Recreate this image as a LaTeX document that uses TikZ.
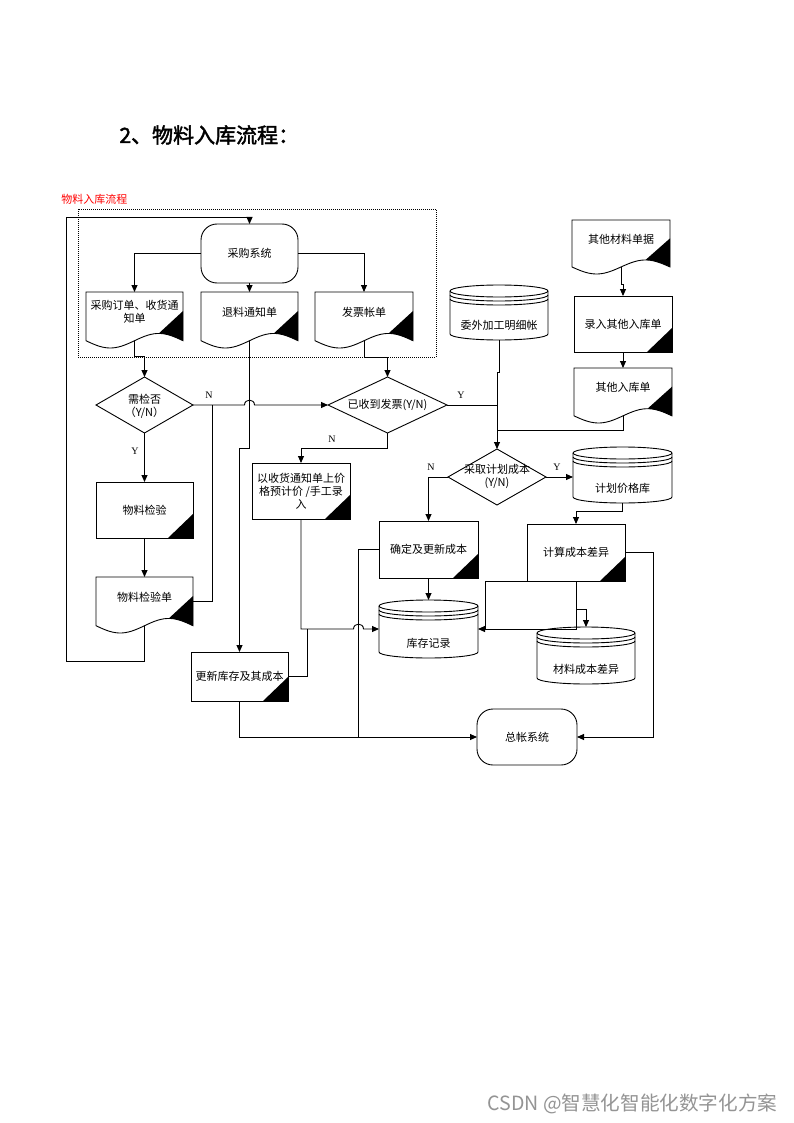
\documentclass[tikz,border=0pt]{standalone}
\usepackage{fontspec}
\setmainfont{Liberation Serif}
\newfontfamily\cjk{Noto Sans CJK SC}
\newfontfamily\cjkb{Noto Sans CJK SC}[FakeBold=2]
\usetikzlibrary{shapes.geometric,arrows.meta,calc}

\newcommand\docshape[6]{%
  \pgfmathsetmacro\dkL{#2}\pgfmathsetmacro\dkT{#3}\pgfmathsetmacro\dkR{#4}\pgfmathsetmacro\dkH{#5}%
  \pgfmathsetmacro\dkW{\dkR-\dkL}\pgfmathsetmacro\dkX{(\dkL+\dkR)/2}%
  \draw[shp] (\dkL,\dkT) -- (\dkR,\dkT) -- plot[domain=1:0,samples=31,variable=\vv] ({\dkL+\vv*\dkW},{\dkT+\dkH*(0.87+0.13*sin(360*\vv))}) -- cycle;
  \fill (\dkR,{\dkT+0.34*\dkH}) -- plot[domain=1:0.75,samples=9,variable=\vv] ({\dkL+\vv*\dkW},{\dkT+\dkH*(0.87+0.13*sin(360*\vv))}) -- cycle;
  \node[geo,minimum width={\dkW*1pt},minimum height={0.87*\dkH*1pt},anchor=north] (#1) at (\dkX,\dkT) {};
  \node[txt] (#1t) at (\dkX,{\dkT+0.36*\dkH}) {#6};
}
\newcommand\procshape[6]{%
  \node[proc,minimum width={(#4-#2)*1pt},minimum height={(#5-#3)*1pt}] (#1) at ({(#2+#4)/2},{(#3+#5)/2}) {#6};
  \fill (#1.south east) -- ++(0,-24) -- ++(-25,24) -- cycle;
}
\newcommand\cylshape[6]{%
  \pgfmathsetmacro\cyL{#2}\pgfmathsetmacro\cyT{#3}\pgfmathsetmacro\cyR{#4}\pgfmathsetmacro\cyB{#5}%
  \pgfmathsetmacro\cyX{(\cyL+\cyR)/2}\pgfmathsetmacro\cyk{0.552*(\cyR-\cyL)/2}%
  \pgfmathsetmacro\cyA{\cyT+6}\pgfmathsetmacro\cyZ{\cyB-6}%
  \draw[shp] (\cyL,\cyA) -- (\cyL,\cyZ)
     .. controls (\cyL,{\cyZ+3.3}) and ({\cyX-\cyk},\cyB) .. (\cyX,\cyB)
     .. controls ({\cyX+\cyk},\cyB) and (\cyR,{\cyZ+3.3}) .. (\cyR,\cyZ)
     -- (\cyR,\cyA)
     .. controls (\cyR,{\cyA-3.3}) and ({\cyX+\cyk},\cyT) .. (\cyX,\cyT)
     .. controls ({\cyX-\cyk},\cyT) and (\cyL,{\cyA-3.3}) .. (\cyL,\cyA) -- cycle;
  \foreach \yy in {0,4,8}{%
    \draw (\cyL,{\cyA+\yy}) .. controls (\cyL,{\cyA+\yy+3.3}) and ({\cyX-\cyk},{\cyA+\yy+6}) .. (\cyX,{\cyA+\yy+6})
      .. controls ({\cyX+\cyk},{\cyA+\yy+6}) and (\cyR,{\cyA+\yy+3.3}) .. (\cyR,{\cyA+\yy});
  }
  \node[geo,minimum width={(\cyR-\cyL)*1pt},minimum height={(\cyB-\cyT)*1pt}] (#1) at (\cyX,{(\cyT+\cyB)/2}) {};
  \node[txt] (#1t) at (\cyX,{\cyT+0.74*(\cyB-\cyT)}) {#6};
}

\begin{document}
\begin{tikzpicture}[x=1pt,y=-1pt,line width=0.9pt,
  shp/.style={draw,fill=white},
  geo/.style={inner sep=0pt,outer sep=0pt,draw=none},
  txt/.style={font=\cjk\fontsize{11}{13}\selectfont,align=center,inner sep=0pt},
  proc/.style={draw,fill=white,inner sep=0pt,outer sep=0pt,font=\cjk\fontsize{11}{13}\selectfont,align=center},
  term/.style={draw,fill=white,rounded corners=16pt,inner sep=0pt,outer sep=0pt,font=\cjk\fontsize{11}{13}\selectfont,align=center},
  dia/.style={diamond,draw,fill=white,inner sep=0pt,outer sep=0pt},
  arr/.style={-{Triangle[length=7pt,width=6pt]}},
  lab/.style={font=\fontsize{10}{12}\selectfont,inner sep=0pt}]
\fill[white] (0,0) rectangle (794,1123);
\useasboundingbox (0,0) rectangle (794,1123);

% titles
\node[anchor=west,inner sep=0pt,font=\cjkb\fontsize{21}{25}\selectfont] (title) at (119,135) {2、物料入库流程：};
\node[anchor=west,inner sep=0pt,font=\cjk\fontsize{11}{13}\selectfont,text=red] (lbl) at (61,199) {物料入库流程};
\node[anchor=west,inner sep=0pt,font=\cjk\fontsize{19.6}{22}\selectfont,text=black!42] (wm) at (487,1104) {CSDN @智慧化智能化数字化方案};

% group frame
\draw[line width=0.6pt,dash pattern=on 1pt off 1pt] (78,209) rectangle (436,357);

% terminators
\node[term,minimum width=97pt,minimum height=59pt] (cg) at (249.5,253.5) {采购系统};
\node[term,minimum width=100pt,minimum height=56pt] (zz) at (527,737) {总帐系统};

% documents
\docshape{d1}{86}{292}{183}{56}{采购订单、收货通\\知单}
\docshape{d2}{201}{292}{298}{56}{退料通知单}
\docshape{d3}{315}{292}{413}{56}{发票帐单}
\docshape{d4}{96}{577}{193}{56}{物料检验单}
\docshape{d5}{572}{220}{670}{54}{其他材料单据}
\docshape{d6}{574}{368}{672}{55}{其他入库单}

% processes
\procshape{p1}{96}{482}{193}{538}{物料检验}
\procshape{p2}{252}{463}{350}{519}{以收货通知单上价\\格预计价 /手工录\\入}
\procshape{p3}{191}{652}{288}{701}{更新库存及其成本}
\procshape{p4}{379}{521}{478}{578}{确定及更新成本}
\procshape{p5}{527}{524}{625}{581}{计算成本差异}
\procshape{p6}{574}{296}{672}{352}{录入其他入库单}

% stores
\cylshape{c1}{450}{285}{548}{340}{委外加工明细帐}
\cylshape{c2}{573}{447}{672}{503}{计划价格库}
\cylshape{c3}{379}{600}{478}{658}{库存记录}
\cylshape{c4}{537}{627}{635}{684}{材料成本差异}

% decisions
\node[dia,minimum width=97pt,minimum height=56pt] (q1) at (144.5,405) {};
\node[txt] (q1t) at (144.5,406.5) {需检否\\（Y/N）};
\node[dia,minimum width=119pt,minimum height=56pt] (q2) at (387.5,405) {};
\node[txt] (q2t) at (387.5,405) {已收到发票(Y/N)};
\node[dia,minimum width=98pt,minimum height=56pt] (q3) at (497,477) {};
\node[txt] (q3t) at (497,476.5) {采取计划成本\\(Y/N)};

% connectors
\draw[arr] (cg.west) -| (d1.north);
\draw[arr] (cg.south) -- (d2.north);
\draw[arr] (cg.east) -| (d3.north);
\draw[arr] (d1.south) |- ($(q1.north)+(0,-21)$) -- (q1.north);
\draw[arr] (d3.south) |- ($(q2.north)+(0,-20)$) -- (q2.north);
\draw[arr] (d4.south) |- (66,661) |- ($(cg.north)+(0,-7)$) -- (cg.north);
\draw[arr] (q1.south) -- (p1.north);
\draw[arr] (p1.south) -- (d4.north);
\draw[arr] (q1.east) -- (244.5,405) .. controls (244.5,398.5) and (254.5,398.5) .. (254.5,405) -- (q2.west);
\draw (d4.east) -| (212,405);
\draw[arr] (d2.south) -- (d2.south |- 0,448) -| (p3.north);
\draw[arr] (q2.south) -- (q2.south |- 0,448) -| (p2.north);
\draw (q2.east) -- (q2.east -| q3.north);
\draw[arr] (c1.south) -- ++(0,32) -| (q3.north);
\draw (d6.south) |- ($(q3.north)+(0,-19)$);
\draw[arr] (d5.south) -- ++(0,17) -| (p6.north);
\draw[arr] (p6.south) -- (d6.north);
\draw[arr] (q3.west) -| (p4.north);
\draw[arr] (q3.east) -- (q3.east -| c2.west);
\draw[arr] (c2.south) -- ++(0,8) -| (p5.north);
\draw[arr] (p4.south) -- (c3.north);
\draw[arr] (p2.south) |- (353.5,629) .. controls (353.5,622.5) and (363.5,622.5) .. (363.5,629) -- (c3.west);
\draw (p3.east) -| (307,629);
\draw[arr] (p3.south) |- (zz.west);
\draw (p4.west) -| (358.5,737);
\draw[arr] (p5.south) -- (p5.south |- c3.east) -- (c3.east);
\draw (p5.south west) -| (485,629);
\draw[arr] (p5.south |- 0,609) -| (c4.north);
\draw[arr] (p5.east) -| (653,737) -- (zz.east);

% branch labels
\node[lab] (n1) at (209,395) {N};
\node[lab] (y1) at (135,451) {Y};
\node[lab] (y2) at (461,395) {Y};
\node[lab] (n2) at (332,439) {N};
\node[lab] (n3) at (431,467) {N};
\node[lab] (y3) at (557,467) {Y};
\end{tikzpicture}
\end{document}
